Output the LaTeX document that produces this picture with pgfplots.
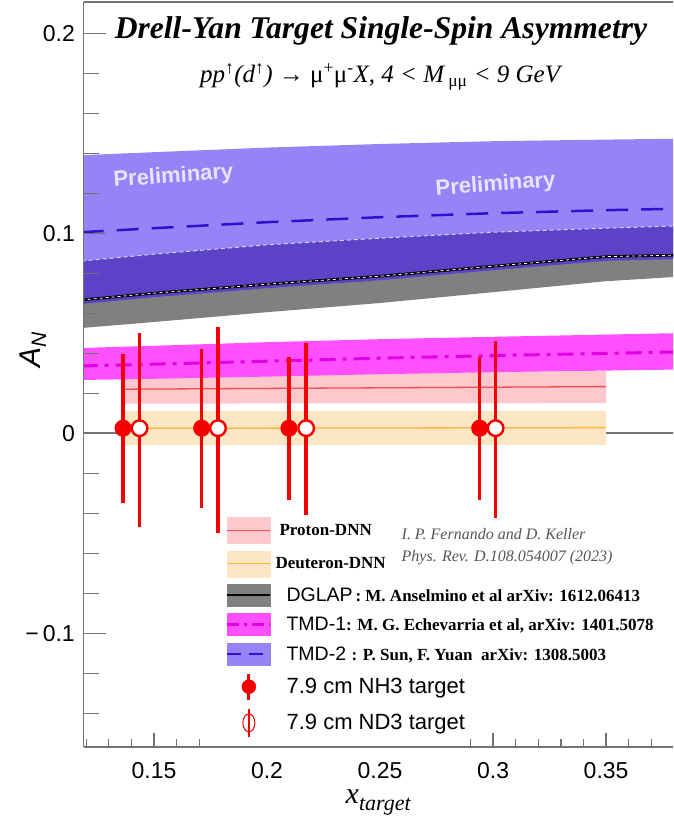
\documentclass[border=0pt]{standalone}
\usepackage{fontspec}
\setmainfont{Liberation Sans}
\newfontfamily\tnr{Liberation Serif}
\usepackage{pgfplots}
\pgfplotsset{compat=1.18}

\definecolor{tmdtwo}{RGB}{150,132,246}
\definecolor{overlap}{RGB}{92,66,198}
\definecolor{dglapgray}{RGB}{128,128,128}
\definecolor{tmdtwoline}{RGB}{48,16,208}
\definecolor{tmdone}{RGB}{255,80,255}
\definecolor{tmdoneline}{RGB}{225,0,225}
\definecolor{protband}{RGB}{255,200,205}
\definecolor{protline}{RGB}{240,80,80}
\definecolor{deutband}{RGB}{253,230,196}
\definecolor{deutline}{RGB}{255,180,60}
\definecolor{axisgray}{RGB}{115,115,115}
\definecolor{prelim}{RGB}{232,228,255}
\definecolor{notegray}{RGB}{85,85,85}
\definecolor{datared}{RGB}{245,0,0}

\begin{document}
\begin{tikzpicture}
\useasboundingbox (0pt,0pt) rectangle (673pt,827pt);
\begin{axis}[
  at={(83.5pt,80pt)}, anchor=south west,
  scale only axis, width=589.5pt, height=745pt,
  xmin=0.1188, xmax=0.3796, ymin=-0.1569, ymax=0.2156,
  axis x line=box, axis y line=left,
  axis line style={-, axisgray, line width=1.3pt},
  axis on top,
  xtick=\empty,
  ytick={-0.1,0,0.1,0.2}, yticklabels={−\hspace{4pt}0.1,0,0.1,0.2},
  minor ytick={-0.14,-0.12,-0.08,-0.06,-0.04,-0.02,0.02,0.04,0.06,0.08,0.12,0.14,0.16,0.18},
  ytick pos=left, tick align=inside,
  major tick length=22pt, minor tick length=15pt,
  tick style={axisgray, line width=1.3pt},
  yticklabel style={anchor=east, inner sep=0pt, xshift=-8.5pt, font=\fontsize{23}{23}\selectfont},
  ylabel={\itshape A\textsubscript{N}},
  ylabel style={at={(axis description cs:-0.086,0.533)}, anchor=center, font=\fontsize{30}{30}\selectfont},
  legend style={at={(0.2366,0.3114)}, anchor=north west, draw=none, fill=none,
    row sep=7pt, nodes={inner sep=0pt, anchor=west}},
  legend cell align=left,
]
% zero line
\addplot[forget plot, axisgray, line width=1.4pt] coordinates {(0.10,0) (0.40,0)};

% Deuteron-DNN band
\addplot[forget plot, draw=none, fill=deutband] coordinates {
  (0.1365,0.0110) (0.35,0.0112) (0.35,-0.0058) (0.1365,-0.0060)};
\addplot[forget plot, deutline, line width=1.3pt] coordinates {(0.1365,0.0024) (0.35,0.0028)};
% Proton-DNN band
\addplot[forget plot, draw=none, fill=protband] coordinates {
  (0.1365,0.0305) (0.35,0.0310) (0.35,0.0150) (0.1365,0.0148)};
\addplot[forget plot, protline, line width=1.3pt] coordinates {(0.1365,0.0220) (0.35,0.0233)};

% TMD-1 band
\addplot[forget plot, draw=none, fill=tmdone] coordinates {
  (0.118,0.0426) (0.15,0.0437) (0.2,0.0455) (0.25,0.0470) (0.3,0.0482) (0.35,0.0493) (0.38,0.0500)
  (0.38,0.0318) (0.35,0.0313) (0.3,0.0305) (0.25,0.0295) (0.2,0.0283) (0.15,0.0272) (0.118,0.0266)};
\addplot[forget plot, tmdoneline, line width=3pt, dash pattern=on 16pt off 7pt on 4pt off 7pt] coordinates {
  (0.118,0.0336) (0.15,0.0345) (0.2,0.0360) (0.25,0.0375) (0.3,0.0388) (0.35,0.0399) (0.38,0.0406)};

% TMD-2 band
\addplot[forget plot, draw=none, fill=tmdtwo] coordinates {
  (0.118,0.1390) (0.15,0.1405) (0.2,0.1428) (0.25,0.1446) (0.3,0.1460) (0.35,0.1468) (0.38,0.1472)
  (0.38,0.0870) (0.35,0.0862) (0.3,0.0815) (0.25,0.0765) (0.2,0.0725) (0.15,0.0680) (0.118,0.0646)};
% DGLAP band
\addplot[forget plot, draw=none, fill=dglapgray] coordinates {
  (0.118,0.0861) (0.15,0.0895) (0.2,0.0942) (0.25,0.0975) (0.3,0.1005) (0.35,0.1025) (0.38,0.1036)
  (0.38,0.0781) (0.35,0.0760) (0.3,0.0705) (0.25,0.0651) (0.2,0.0605) (0.15,0.0556) (0.118,0.0526)};
% overlap of TMD-2 and DGLAP
\addplot[forget plot, draw=none, fill=overlap] coordinates {
  (0.118,0.0861) (0.15,0.0895) (0.2,0.0942) (0.25,0.0975) (0.3,0.1005) (0.35,0.1025) (0.38,0.1036)
  (0.38,0.0870) (0.35,0.0862) (0.3,0.0815) (0.25,0.0765) (0.2,0.0725) (0.15,0.0680) (0.118,0.0646)};
\addplot[forget plot, color={rgb,255:red,215;green,212;blue,250}, line width=1pt, dash pattern=on 4pt off 3pt] coordinates {
  (0.118,0.0861) (0.15,0.0895) (0.2,0.0942) (0.25,0.0975) (0.3,0.1005) (0.35,0.1025) (0.38,0.1036)};
% DGLAP central
\addplot[forget plot, black, line width=2.6pt] coordinates {
  (0.118,0.0666) (0.15,0.0700) (0.2,0.0745) (0.25,0.0785) (0.3,0.0835) (0.35,0.0883) (0.38,0.0890)};
\addplot[forget plot, white, line width=0.8pt, dash pattern=on 3pt off 3pt] coordinates {
  (0.118,0.0666) (0.15,0.0700) (0.2,0.0745) (0.25,0.0785) (0.3,0.0835) (0.35,0.0883) (0.38,0.0890)};
% TMD-2 central
\addplot[forget plot, tmdtwoline, line width=2.5pt, dash pattern=on 22pt off 13pt] coordinates {
  (0.118,0.1005) (0.15,0.1025) (0.2,0.1055) (0.25,0.1080) (0.3,0.1100) (0.35,0.1115) (0.38,0.1122)};

% NH3 data (filled)
\addplot[forget plot, only marks, mark=*, mark size=8.3pt, datared,
  error bars/.cd, y dir=both, y explicit, error mark=none,
  error bar style={line width=3.4pt, datared}] coordinates {
  (0.1363,0.0025) += (0,0.0371) -= (0,0.0374)
  (0.1711,0.0025) += (0,0.0396) -= (0,0.0399)
  (0.2097,0.0025) += (0,0.0356) -= (0,0.0359)
  (0.2941,0.0025) += (0,0.0356) -= (0,0.0359)};
% ND3 data (open)
\addplot[forget plot, only marks, mark=*, mark size=7.8pt, datared,
  mark options={fill=white, draw=datared, line width=2.4pt},
  error bars/.cd, y dir=both, y explicit, error mark=none,
  error bar style={line width=3.8pt, datared}] coordinates {
  (0.1436,0.0025) += (0,0.0475) -= (0,0.0494)
  (0.1783,0.0025) += (0,0.0506) -= (0,0.0524)
  (0.2173,0.0025) += (0,0.0426) -= (0,0.0434)
  (0.3011,0.0025) += (0,0.0436) -= (0,0.0449)};

% texts
\node[anchor=base, font=\tnr\bfseries\itshape\fontsize{31.6}{31.6}\selectfont] at (axis cs:0.2504,0.1971)
  {Drell-Yan Target Single-Spin Asymmetry};
\node[anchor=base, font=\tnr\itshape\fontsize{25}{25}\selectfont] at (axis cs:0.2500,0.1751)
  {pp\textsuperscript{↑}(d\textsuperscript{↑}) → {\upshape μ\textsuperscript{+}μ\textsuperscript{-}}X, 4 < M\,\textsubscript{\upshape μμ} < 9 GeV};
\node[rotate=4, text=prelim, font=\bfseries\fontsize{22}{22}\selectfont] at (axis cs:0.1586,0.1281) {Preliminary};
\node[rotate=4, text=prelim, font=\bfseries\fontsize{22}{22}\selectfont] at (axis cs:0.3011,0.1240) {Preliminary};
\node[anchor=base west, text=notegray, font=\tnr\itshape\fontsize{16}{16}\selectfont] at (axis cs:0.2580,-0.0534)
  {I. P. Fernando and D. Keller};
\node[anchor=base west, text=notegray, font=\tnr\itshape\fontsize{16}{16}\selectfont] at (axis cs:0.2580,-0.0644)
  {Phys. Rev. D.108.054007 (2023)};

% legend
\addlegendimage{legend image code/.code={\fill[protband] (0pt,-13pt) rectangle (43pt,13pt);
  \draw[protline, line width=1.2pt] (0pt,0pt) -- (43pt,0pt);}}
\addlegendentry{\hspace{8pt}{\tnr\bfseries\fontsize{17}{17}\selectfont Proton-DNN}}
\addlegendimage{legend image code/.code={\fill[deutband] (0pt,-13pt) rectangle (43pt,13pt);
  \draw[deutline, line width=1.2pt] (0pt,0pt) -- (43pt,0pt);}}
\addlegendentry{\hspace{4pt}{\tnr\bfseries\fontsize{17}{17}\selectfont Deuteron-DNN}}
\addlegendimage{legend image code/.code={\fill[dglapgray] (0pt,-11pt) rectangle (43pt,11pt);
  \draw[black, line width=2.4pt] (0pt,0pt) -- (43pt,0pt);}}
\addlegendentry{\hspace{15pt}{\fontsize{19.5}{19.5}\selectfont DGLAP}{\tnr\bfseries\fontsize{17}{17}\selectfont\,: M. Anselmino et al arXiv: 1612.06413}}
\addlegendimage{legend image code/.code={\fill[tmdone] (0pt,-11pt) rectangle (43pt,11pt);
  \draw[tmdoneline, line width=2.4pt, dash pattern=on 12pt off 5pt on 3pt off 5pt] (0pt,0pt) -- (43pt,0pt);}}
\addlegendentry{\hspace{15pt}{\fontsize{19.5}{19.5}\selectfont TMD-1}{\tnr\bfseries\fontsize{17}{17}\selectfont: M. G. Echevarria et al, arXiv: 1401.5078}}
\addlegendimage{legend image code/.code={\fill[tmdtwo] (0pt,-11pt) rectangle (43pt,11pt);
  \draw[tmdtwoline, line width=2.4pt, dash pattern=on 14pt off 8pt] (0pt,0pt) -- (43pt,0pt);}}
\addlegendentry{\hspace{15pt}{\fontsize{19.5}{19.5}\selectfont TMD-2 }{\tnr\bfseries\fontsize{17}{17}\selectfont: P. Sun, F. Yuan\ \ arXiv: 1308.5003}}
\addlegendimage{legend image code/.code={\draw[datared, line width=3pt] (21.5pt,-13pt) -- (21.5pt,13pt);
  \fill[datared] (21.5pt,0pt) circle (7pt);}}
\addlegendentry{\hspace{15pt}{\fontsize{22}{22}\selectfont 7.9 cm NH3 target}}
\addlegendimage{legend image code/.code={\draw[datared, line width=1.3pt] (21.5pt,-14pt) -- (21.5pt,14pt);
  \draw[datared, line width=1pt] (21.5pt,0pt) ellipse (6pt and 9pt);}}
\addlegendentry{\hspace{15pt}{\fontsize{22}{22}\selectfont 7.9 cm ND3 target}}
\end{axis}

% x axis (separate, for its own tick lengths)
\begin{axis}[
  at={(83.5pt,80pt)}, anchor=south west,
  scale only axis, width=589.5pt, height=745pt,
  xmin=0.1188, xmax=0.3796, ymin=-0.1569, ymax=0.2156,
  axis x line=bottom, axis y line=none,
  axis line style={-, axisgray, line width=1.3pt},
  xtick={0.15,0.3,0.35}, xticklabels={0.15,0.3,0.35},
  extra x ticks={0.2,0.25}, extra x tick labels={0.2,0.25},
  extra x tick style={major tick length=0pt},
  minor xtick={0.12,0.13,0.14,0.16,0.17,0.29,0.31,0.32,0.33,0.34,0.36,0.37},
  xtick pos=left, tick align=inside,
  major tick length=14pt, minor tick length=8pt,
  tick style={axisgray, line width=1.3pt},
  xticklabel style={anchor=north, inner sep=0pt, yshift=-15pt, font=\fontsize{23}{23}\selectfont},
  xlabel={{\tnr\itshape\fontsize{30}{30}\selectfont x}{\tnr\itshape\fontsize{22}{22}\selectfont\raisebox{-7pt}{target}}},
  xlabel style={at={(axis description cs:0.5,0)}, anchor=base, yshift=-56pt},
]
\end{axis}
\end{tikzpicture}
\end{document}
